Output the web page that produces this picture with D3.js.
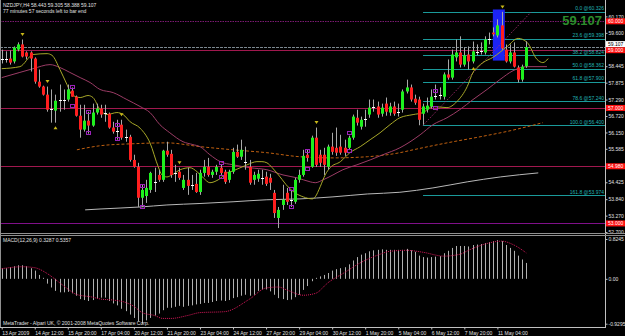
<!DOCTYPE html>
<html>
<head>
<meta charset="utf-8">
<script src="https://cdn.jsdelivr.net/npm/d3@7"></script>
<style>
body { margin: 0; background: #000; }
svg { display: block; }
text { font-family: 'Liberation Sans', Arial, sans-serif; font-size: 5px; fill: #e0e0e0; }
</style>
</head>
<body>
<svg width="625" height="336"></svg>
<script>
// NZDJPY H4 candles
const open = [58.70,58.70,58.71,58.61,59.02,59.20,58.92,58.92,58.71,57.91,57.74,57.46,56.95,56.91,57.26,57.28,57.29,57.60,57.39,56.73,
  56.25,56.56,56.39,56.84,56.98,56.83,56.80,56.32,56.19,56.42,55.99,56.00,55.20,54.96,53.89,53.95,54.16,54.45,54.68,54.51,
  55.52,55.41,54.73,54.79,54.23,54.51,54.33,54.37,54.09,54.75,54.96,54.68,54.79,54.93,54.79,54.51,54.79,55.48,55.31,55.14,
  54.96,54.51,54.55,54.59,54.62,54.58,54.06,53.19,53.64,54.06,53.82,53.75,54.51,54.68,55.38,54.96,55.97,55.38,55.38,54.96,
  55.66,55.62,55.66,55.62,55.62,55.97,56.66,56.35,56.60,56.77,57.02,57.05,56.80,57.15,56.84,57.05,56.85,56.94,57.57,57.71,
  57.32,57.29,56.80,56.94,57.05,57.42,57.45,57.39,58.16,58.05,58.75,58.92,58.50,58.85,58.61,58.95,58.97,58.92,59.38,59.61,
  59.51,59.86,59.02,58.61,58.92,58.40,57.98,58.443]
const high = [59.02,58.96,58.99,59.13,59.27,59.37,58.96,58.96,58.75,58.33,57.77,57.74,57.64,57.46,57.81,57.64,57.81,57.71,57.43,57.11,
  57.11,56.87,57.15,57.15,57.11,57.11,56.84,56.52,56.59,56.59,56.25,56.07,55.38,55.10,54.34,54.51,54.79,54.93,54.86,55.55,
  55.83,55.55,55.03,54.93,54.68,54.93,54.68,54.75,54.86,55.20,55.27,54.86,55.03,55.03,54.86,54.86,55.62,55.73,55.90,55.66,
  55.20,54.79,54.86,54.86,54.79,54.72,54.16,53.57,54.34,54.23,54.16,54.58,54.86,55.55,55.55,56.04,56.32,55.55,55.62,55.73,
  56.14,56.32,56.07,55.90,56.04,56.77,56.94,56.70,56.94,57.29,57.29,57.22,57.15,57.36,57.18,57.22,57.15,57.64,57.98,57.81,
  57.46,57.39,57.15,57.36,57.64,57.81,57.71,58.23,58.68,59.02,59.37,59.48,59.09,59.13,59.30,59.20,59.27,59.48,59.61,59.79,
  60.07,60.326,59.20,59.20,59.27,58.47,58.50,59.305]
const low = [58.54,58.57,58.50,58.54,58.96,58.75,58.68,58.26,57.84,57.70,57.43,56.87,56.49,56.49,56.87,56.94,57.22,57.39,56.70,55.97,
  56.18,56.11,56.35,56.77,56.66,56.52,56.28,56.11,55.90,55.90,55.83,55.14,54.93,53.57,53.57,53.71,54.06,54.09,54.44,54.44,
  55.31,54.58,54.44,54.51,54.16,53.99,54.16,54.06,53.99,54.62,54.62,54.58,54.68,54.68,54.37,54.41,54.72,55.27,55.20,54.86,
  54.34,54.34,54.44,54.34,54.30,54.16,53.19,52.84,53.47,53.64,53.57,53.68,54.41,54.62,55.14,54.93,54.96,54.96,54.68,54.86,
  55.38,55.34,55.38,55.34,55.55,55.90,56.39,56.25,56.35,56.66,56.87,56.66,56.70,56.73,56.73,56.73,56.70,56.84,57.50,57.22,
  57.11,56.40,56.42,56.84,56.98,57.29,57.29,57.29,57.98,57.98,58.61,58.40,58.43,58.33,58.54,58.82,58.85,58.85,59.20,59.48,
  59.44,59.02,58.57,58.54,58.40,57.88,57.91,58.388]
const close = [58.70,58.70,58.57,59.09,59.20,58.78,58.78,58.71,57.91,57.74,57.46,56.94,56.95,57.25,57.26,57.28,57.64,57.39,56.73,56.25,
  56.56,56.39,56.84,56.98,56.77,56.83,56.32,56.18,56.19,55.97,55.99,55.20,54.96,53.89,54.16,54.23,54.75,54.45,54.51,55.52,
  55.38,54.68,54.73,54.58,54.51,54.30,54.33,54.09,54.75,54.96,54.68,54.79,54.96,54.75,54.44,54.79,55.48,55.31,55.55,55.14,
  54.41,54.68,54.72,54.59,54.37,54.41,53.36,53.47,53.82,53.75,53.82,54.51,54.68,55.34,55.27,55.97,55.03,55.10,55.03,55.66,
  55.48,55.45,55.45,55.45,55.97,56.70,56.49,56.59,56.60,57.01,57.02,56.77,57.01,56.87,57.05,56.80,56.85,57.57,57.71,57.29,
  57.18,56.59,57.05,57.08,57.39,57.42,57.45,58.16,58.05,58.85,58.92,58.50,58.82,58.61,58.96,58.95,58.97,59.37,59.38,59.55,
  59.86,59.06,58.61,58.92,58.43,57.98,58.43,59.107]

// moving averages, [bar index, price]
const maFast = [[0,58.36],[4.4,58.43],[7.6,58.85],[11,58.88],[12.2,58.82],[14.1,58.33],[15.8,57.81],[17,57.46],[19,57.36],
  [20.9,57.43],[22.1,57.36],[23.8,56.94],[25.5,56.77],[27.9,56.84],[29.4,56.77],[31.1,56.52],[33.5,56.30],[35.9,55.79],
  [37.9,54.96],[38.8,54.68],[40,54.61],[41.2,54.68],[43.2,54.86],[45.6,54.93],[47.3,54.79],[48.8,54.58],[50.4,54.41],
  [52.4,54.51],[54.6,54.75],[56,54.82],[59.4,55.03],[61.8,55.14],[63,55.14],[64.2,55.10],[65.5,54.93],[67.4,54.61],
  [69.3,54.27],[71,54.06],[73,53.92],[75.2,53.85],[75.9,53.92],[77.1,54.27],[78.3,54.68],[79.5,54.93],[82,55.14],
  [84.3,55.45],[86.8,55.66],[89.2,55.90],[91.6,56.14],[94,56.42],[96.4,56.66],[99.6,56.77],[102,56.84],[104.4,57.05],
  [107.8,57.01],[110.2,57.22],[112.7,57.74],[114.1,58.23],[115.3,58.43],[116.5,58.57],[118.9,58.75],[122.4,59.13],
  [125,59.41],[127.2,59.27],[129.6,58.68],[131,58.57],[132.3,58.71]]
const maSlow = [[0,58.05],[4.4,58.23],[7.6,58.36],[11.7,58.50],[14.1,58.40],[16.5,58.23],[19,58.05],[21.4,57.88],[23.8,57.64],
  [27,57.53],[30.3,57.29],[33.5,57.05],[35.9,56.84],[38.3,56.42],[40.7,56.14],[43.9,55.83],[46.3,55.73],[48,55.66],
  [50.4,55.38],[52.9,55.14],[56,55.03],[60.1,54.93],[64.2,54.86],[68.1,54.68],[71.5,54.58],[74.7,54.44],[75.9,54.41],
  [77.8,54.51],[80.2,54.68],[82.6,54.86],[86,55.03],[89.2,55.20],[92.3,55.38],[96.4,55.62],[101.3,56.07],[104.4,56.42],
  [107.8,56.66],[110.9,56.94],[114.1,57.29],[117.5,57.64],[120.6,57.98],[123.8,58.29],[127.2,58.43],[132,58.43]]
const maDashed = [[18.2,55.55],[23.8,55.69],[31.8,55.76],[40,55.79],[48,55.66],[56,55.55],[64.2,55.45],[72.2,55.31],
  [80.2,55.27],[88.5,55.31],[96.4,55.45],[99.6,55.55],[107.8,55.79],[115.8,56.00],[123.1,56.21],[131,56.49]]
const maLong = [[20.2,53.47],[23.8,53.50],[33.5,53.57],[40,53.64],[48,53.69],[56,53.75],[64.2,53.82],[72.2,53.85],
  [80.2,53.92],[88.5,54.02],[96.4,54.08],[104.4,54.23],[112.7,54.44],[120.7,54.61],[129.9,54.75]]

const upFractals = [5, 11, 29, 43, 76, 121]
const downFractals = [13, 114]
const boxHi = [[17,57.74],[21,56.87],[28,56.42],[34,54.30],[53,55.10],[70,54.20],[74,55.52],[84,56.14],[105,57.57]]
const boxLo = [[17,57.08],[21,56.14],[28,55.93],[34,53.57],[53,54.62],[70,53.57],[74,54.89],[84,55.52],[105,57.01]]

const levels = [60.000, 59.000, 57.000, 54.980, 53.000]
const levelColors = ['#7a1a70', '#a0184e', '#a0184e', '#a0184e', '#80108a']
const fibPct = [0, 23.6, 38.2, 50, 61.8, 78.6, 100, 161.8]
const fibPrice = [60.326, 59.398, 58.824, 58.362, 57.900, 57.240, 56.400, 53.974]
const fibAnchor = [[102, 56.400], [128.2, 60.326]]
const boxIdx = [118.9, 121.8]
const boxPrice = [60.41, 58.64]
const bandIdx = [73, 122]

const priceTicks = [60.170, 59.600, 58.445, 57.875, 57.290, 56.720, 56.150, 55.585, 54.425, 53.840, 53.270, 52.700]
const bid = 59.107

const timeIdx = [0, 8, 16, 24, 32, 40, 48, 56, 64, 72, 80, 88, 96, 104, 112, 120]
const timeLabels = ['13 Apr 2009', '14 Apr 12:00', '15 Apr 20:00', '17 Apr 04:00', '20 Apr 12:00', '21 Apr 20:00',
  '23 Apr 04:00', '24 Apr 12:00', '27 Apr 20:00', '29 Apr 04:00', '30 Apr 12:00', '1 May 20:00', '5 May 04:00',
  '6 May 12:00', '7 May 20:00', '11 May 04:00']

// MACD(12,26,9)
const macd = [0.22,0.22,0.24,0.26,0.28,0.28,0.26,0.22,0.17,0.08,0.02,-0.10,-0.18,-0.25,-0.28,-0.28,-0.27,-0.30,-0.35,-0.42,
  -0.44,-0.46,-0.44,-0.41,-0.39,-0.39,-0.46,-0.51,-0.55,-0.62,-0.67,-0.74,-0.81,-0.88,-0.93,-0.86,-0.81,-0.76,-0.72,-0.65,
  -0.60,-0.60,-0.58,-0.56,-0.58,-0.56,-0.55,-0.53,-0.52,-0.50,-0.50,-0.48,-0.46,-0.45,-0.46,-0.44,-0.40,-0.38,-0.35,-0.33,
  -0.35,-0.33,-0.25,-0.22,-0.22,-0.26,-0.33,-0.40,-0.42,-0.44,-0.43,-0.38,-0.33,-0.23,-0.15,-0.05,0.02,0.05,0.08,0.12,
  0.17,0.20,0.22,0.24,0.30,0.38,0.45,0.50,0.53,0.57,0.59,0.60,0.61,0.60,0.60,0.60,0.60,0.60,0.62,0.59,
  0.56,0.48,0.45,0.44,0.45,0.46,0.47,0.53,0.58,0.64,0.68,0.68,0.68,0.67,0.70,0.71,0.72,0.74,0.76,0.78,
  0.80,0.78,0.70,0.64,0.58,0.48,0.40,0.3287]
const signal = [[0,0.21],[5,0.25],[8,0.23],[11,0.11],[14,-0.08],[16,-0.21],[18,-0.32],[22,-0.38],[24,-0.42],[27,-0.44],
  [30,-0.49],[32,-0.57],[34,-0.70],[37,-0.76],[39,-0.82],[41,-0.82],[45,-0.76],[48,-0.70],[54,-0.68],[60,-0.42],
  [64,-0.19],[67,-0.17],[69,-0.23],[73,-0.34],[76,-0.30],[79,-0.08],[83,0.13],[87,0.34],[91,0.49],[94,0.57],
  [98,0.59],[102,0.55],[107,0.47],[111,0.51],[113,0.59],[117,0.72],[121,0.78],[124,0.70],[127,0.5357]]
const macdTicks = [0.8245, 0, -0.9295]

const svg = d3.select('svg')
const width = +svg.attr('width')
const height = +svg.attr('height')

const x = d3.scaleLinear().domain([0, 127]).range([1.7, 526.3])
const y = d3.scaleLinear().domain([52.7, 60.17]).range([232.1, 16.4])
const ym = d3.scaleLinear().domain([-0.9295, 0.8245]).range([323.7, 239])
const px = v => Math.round(x(v)) + 0.5

svg.append('rect').attr('width', width).attr('height', height).attr('fill', '#000')

const defs = svg.append('defs')
defs.append('clipPath').attr('id', 'main').append('rect')
  .attr('x', 1).attr('y', 0).attr('width', 604).attr('height', 232)
defs.append('clipPath').attr('id', 'sub').append('rect')
  .attr('x', 1).attr('y', 237).attr('width', 604).attr('height', 90)
const grad = defs.append('linearGradient').attr('id', 'band')
grad.append('stop').attr('offset', '0%').attr('stop-color', '#ff4020')
grad.append('stop').attr('offset', '25%').attr('stop-color', '#d0205a')
grad.append('stop').attr('offset', '100%').attr('stop-color', '#8a1aa0')

const g = svg.append('g').attr('clip-path', 'url(#main)')

// level lines
g.selectAll('line.level').data(levels).join('line')
  .attr('x1', 0).attr('x2', 605)
  .attr('y1', d => Math.round(y(d)) + 0.5).attr('y2', d => Math.round(y(d)) + 0.5)
  .attr('stroke', (d, i) => levelColors[i])
  .attr('stroke-dasharray', (d, i) => i === 0 ? '1.5,1' : null)

g.append('line')
  .attr('x1', 0).attr('x2', 605)
  .attr('y1', Math.round(y(bid)) + 0.5).attr('y2', Math.round(y(bid)) + 0.5)
  .attr('stroke', '#7c8890').attr('stroke-dasharray', '3,1')

// fibonacci
g.selectAll('line.fib').data(fibPrice).join('line')
  .attr('x1', x(fibAnchor[0][0])).attr('x2', 605)
  .attr('y1', d => Math.round(y(d)) + 0.5).attr('y2', d => Math.round(y(d)) + 0.5)
  .attr('stroke', '#1a9a9a')

g.append('rect')
  .attr('x', x(boxIdx[0])).attr('width', x(boxIdx[1]) - x(boxIdx[0]))
  .attr('y', y(boxPrice[0])).attr('height', y(boxPrice[1]) - y(boxPrice[0]))
  .attr('fill', '#1c24f4')

g.append('line')
  .attr('x1', x(fibAnchor[0][0])).attr('y1', y(fibAnchor[0][1]))
  .attr('x2', x(fibAnchor[1][0])).attr('y2', y(fibAnchor[1][1]))
  .attr('stroke', '#b0307a').attr('stroke-dasharray', '1,1.5')

// moving averages
const maLine = d3.line().x(d => x(d[0])).y(d => y(d[1])).curve(d3.curveMonotoneX)
g.append('path').attr('d', maLine(maLong)).attr('fill', 'none').attr('stroke', '#b8b8b8')
g.append('path').attr('d', maLine(maDashed)).attr('fill', 'none')
  .attr('stroke', '#c06010').attr('stroke-dasharray', '3,2')
g.append('path').attr('d', maLine(maSlow)).attr('fill', 'none').attr('stroke', '#9c3c66')
g.append('path').attr('d', maLine(maFast)).attr('fill', 'none').attr('stroke', '#a8a828')

// candles
const bars = d3.range(open.length).map(i => ({ i, o: open[i], h: high[i], l: low[i], c: close[i] }))
g.selectAll('line.wick').data(bars).join('line')
  .attr('x1', d => px(d.i)).attr('x2', d => px(d.i))
  .attr('y1', d => y(d.h)).attr('y2', d => y(d.l))
  .attr('stroke', '#a8a8a8')
g.selectAll('rect.body').data(bars.filter(d => d.o !== d.c)).join('rect')
  .attr('x', d => Math.round(x(d.i)) - 1).attr('width', 3)
  .attr('y', d => y(Math.max(d.o, d.c)))
  .attr('height', d => Math.max(1, Math.abs(y(d.o) - y(d.c))))
  .attr('fill', d => d.c > d.o ? '#1ef01e' : '#ff1e1e')
g.selectAll('line.doji').data(bars.filter(d => d.o === d.c)).join('line')
  .attr('x1', d => Math.round(x(d.i)) - 1).attr('x2', d => Math.round(x(d.i)) + 2)
  .attr('y1', d => Math.round(y(d.c)) + 0.5).attr('y2', d => Math.round(y(d.c)) + 0.5)
  .attr('stroke', '#ffffff')

// markers
g.selectAll('path.up').data(upFractals).join('path')
  .attr('transform', i => `translate(${px(i)},${y(high[i]) - 5})`)
  .attr('d', 'M-2,-1.5L2,-1.5L0,1.5Z').attr('fill', '#c8b818')
g.selectAll('path.dn').data(downFractals).join('path')
  .attr('transform', i => `translate(${px(i)},${y(low[i]) + 5})`)
  .attr('d', 'M-2,1.5L2,1.5L0,-1.5Z').attr('fill', '#c8b818')
g.selectAll('rect.box').data(boxHi.concat(boxLo)).join('rect')
  .attr('x', d => Math.round(x(d[0])) - 1.5).attr('y', d => Math.round(y(d[1])) - 1.5)
  .attr('width', 4).attr('height', 3)
  .attr('fill', 'none').attr('stroke', '#9a22b8')

// right price axis
const yAxis = d3.axisRight(y).tickValues(priceTicks).tickSize(2).tickPadding(1)
  .tickFormat(d3.format('.3f'))
const yAxisG = svg.append('g').attr('transform', 'translate(605.5,0)').call(yAxis)
yAxisG.select('.domain').remove()
yAxisG.selectAll('line').attr('stroke', '#c0c0c0')
yAxisG.selectAll('text').style('fill', '#e0e0e0').style('font-size', '5px')

// fib labels
svg.selectAll('text.fib').data(fibPrice).join('text')
  .attr('x', 604).attr('y', d => y(d) - 1.5)
  .attr('text-anchor', 'end').style('fill', '#22b4b4')
  .text((d, i) => `${fibPct[i].toFixed(1)} @${d.toFixed(3)}`)

// level tags
const tag = svg.selectAll('g.tag').data(levels).join('g')
  .attr('transform', d => `translate(606,${y(d)})`)
tag.append('rect').attr('x', 0).attr('y', -3).attr('width', 19).attr('height', 6).attr('fill', '#ff1010')
tag.append('text').attr('x', 2).attr('y', 1.8).style('fill', '#ffffff').text(d => d.toFixed(3))

const bidTag = svg.append('g').attr('transform', `translate(606,${y(bid) - 3})`)
bidTag.append('rect').attr('x', 0).attr('y', -3).attr('width', 19).attr('height', 6).attr('fill', '#fff')
bidTag.append('text').attr('x', 2).attr('y', 1.8).style('fill', '#000000').text(bid.toFixed(3))

svg.append('text')
  .attr('x', 602).attr('y', 24.5)
  .attr('text-anchor', 'end')
  .style('font-size', '13px').style('font-weight', 'bold')
  .style('fill', '#2c8c2c')
  .text(bid.toFixed(3))

svg.append('text').attr('x', 3).attr('y', 7).text('NZDJPY,H4  58.443 59.305 58.388 59.107')
svg.append('text').attr('x', 3).attr('y', 13).text('77 minutes 57 seconds left to bar end')

// frame
svg.append('line').attr('x1', 605.5).attr('x2', 605.5).attr('y1', 0).attr('y2', 328).attr('stroke', '#c0c0c0')
svg.append('line').attr('x1', 0.5).attr('x2', 0.5).attr('y1', 0).attr('y2', 328).attr('stroke', '#909090')
svg.append('line').attr('x1', 0).attr('x2', 625).attr('y1', 233.5).attr('y2', 233.5).attr('stroke', '#909090')
svg.append('line').attr('x1', 0).attr('x2', 625).attr('y1', 235.5).attr('y2', 235.5).attr('stroke', '#909090')
svg.append('line').attr('x1', 0).attr('x2', 605.5).attr('y1', 327.5).attr('y2', 327.5).attr('stroke', '#c0c0c0')

// MACD window
const m = svg.append('g').attr('clip-path', 'url(#sub)')
m.append('line')
  .attr('x1', x(bandIdx[0])).attr('x2', x(bandIdx[1]))
  .attr('y1', 237.5).attr('y2', 237.5)
  .attr('stroke', 'url(#band)').attr('stroke-width', 1.5)
m.selectAll('line.hist').data(macd).join('line')
  .attr('x1', (d, i) => px(i)).attr('x2', (d, i) => px(i))
  .attr('y1', ym(0)).attr('y2', d => ym(d))
  .attr('stroke', '#b0b0b0')
m.append('path')
  .attr('d', d3.line().x(d => x(d[0])).y(d => ym(d[1])).curve(d3.curveMonotoneX)(signal))
  .attr('fill', 'none').attr('stroke', '#d8185a').attr('stroke-dasharray', '1,1')

const mAxis = d3.axisRight(ym).tickValues(macdTicks).tickSize(2).tickPadding(1)
  .tickFormat(d => d === 0 ? '0.00' : String(d))
const mAxisG = svg.append('g').attr('transform', 'translate(605.5,0)').call(mAxis)
mAxisG.select('.domain').remove()
mAxisG.selectAll('line').attr('stroke', '#c0c0c0')
mAxisG.selectAll('text').style('fill', '#e0e0e0').style('font-size', '5px')

svg.append('text').attr('x', 3).attr('y', 242).text('MACD(12,26,9) 0.3287 0.5357')
svg.append('text').attr('x', 3).attr('y', 325).text('MetaTrader - Alpari UK, \u00a9 2001-2008 MetaQuotes Software Corp.')

// time axis
const xAxis = d3.axisBottom(x).tickValues(timeIdx).tickSize(2).tickPadding(1.5)
  .tickFormat((d, k) => timeLabels[k])
const xAxisG = svg.append('g').attr('transform', 'translate(0,327.5)').call(xAxis)
xAxisG.select('.domain').remove()
xAxisG.selectAll('line').attr('stroke', '#c0c0c0')
xAxisG.selectAll('text').attr('text-anchor', 'start').style('fill', '#e0e0e0').style('font-size', '5px')
</script>
</body>
</html>
